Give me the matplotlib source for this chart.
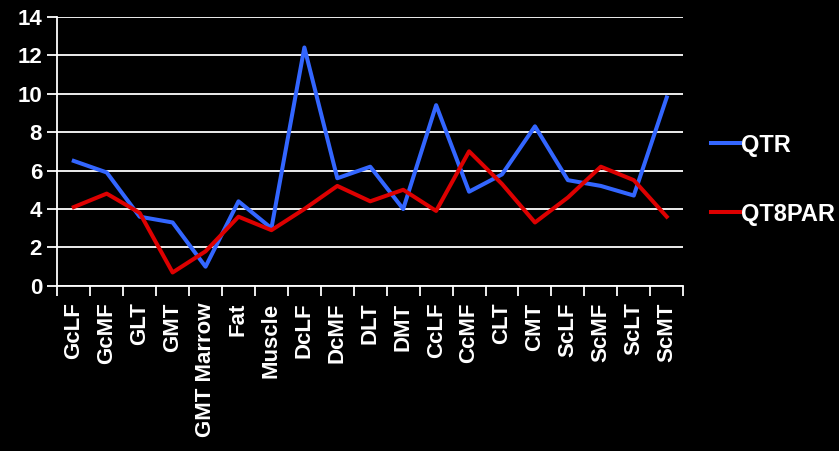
import matplotlib
matplotlib.use("Agg")
import matplotlib.pyplot as plt
import numpy as np

categories = ["GcLF", "GcMF", "GLT", "GMT", "GMT Marrow", "Fat", "Muscle",
              "DcLF", "DcMF", "DLT", "DMT", "CcLF", "CcMF", "CLT", "CMT",
              "ScLF", "ScMF", "ScLT", "ScMT"]
qtr = [6.5, 5.9, 3.6, 3.3, 1.0, 4.4, 3.0, 12.4, 5.6, 6.2, 4.0, 9.4, 4.9,
       5.8, 8.3, 5.5, 5.2, 4.7, 9.8]
qt8par = [4.1, 4.8, 3.8, 0.7, 1.8, 3.6, 2.9, 4.0, 5.2, 4.4, 5.0, 3.9, 7.0,
          5.3, 3.3, 4.6, 6.2, 5.5, 3.6]

plt.rcParams["font.family"] = ["Liberation Sans", "DejaVu Sans"]
plt.rcParams["font.weight"] = "bold"

fig = plt.figure(figsize=(8.39, 4.51), dpi=100, facecolor="black")
ax = fig.add_axes([0.0683, 0.366, 0.746, 0.597], facecolor="black")

x = np.arange(len(categories))
ax.plot(x, qtr, color="#3366FF", lw=2.9, label="QTR", zorder=3)
ax.plot(x, qt8par, color="#DD0000", lw=2.9, label="QT8PAR", zorder=3)

ax.set_xlim(-0.5, len(categories) - 0.5)
ax.set_ylim(0, 14)
ax.set_yticks(range(0, 15, 2))
ax.yaxis.grid(True, color="white", lw=1.3)
ax.set_axisbelow(True)

ax.set_xticks(x)
ax.set_xticklabels(categories, rotation=90, color="white", fontsize=16,
                   fontweight="bold")
ax.set_xticks(np.arange(-0.5, len(categories)), minor=True)
ax.tick_params(axis="x", which="major", length=0, pad=12)
ax.tick_params(axis="x", which="minor", length=7, width=1.3, color="white",
               direction="out")
ax.tick_params(axis="y", length=7, width=1.3, color="white", labelcolor="white",
               labelsize=16, pad=4)
for lbl in ax.get_yticklabels():
    lbl.set_fontweight("bold")

for side in ["top", "right"]:
    ax.spines[side].set_visible(False)
for side in ["left", "bottom"]:
    ax.spines[side].set_color("white")
    ax.spines[side].set_linewidth(1.3)

# legend sits to the right of the plot, a little below centre
leg = ax.legend(loc="center left", bbox_to_anchor=(1.021, 0.395), frameon=False,
                fontsize=17, handlelength=1.25, handletextpad=0.05,
                labelspacing=1.95, labelcolor="white", borderaxespad=0.2)
for h in leg.get_lines():
    h.set_linewidth(2.9)

fig.savefig("out.png", dpi=100, facecolor="black")
